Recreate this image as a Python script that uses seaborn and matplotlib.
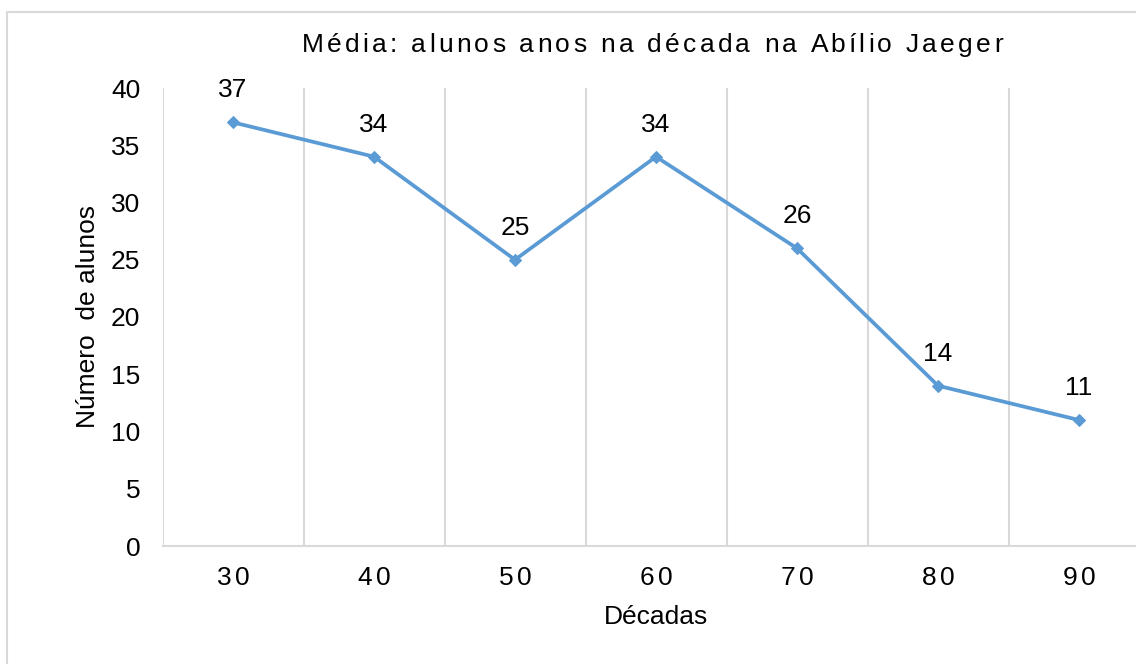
import numpy as np
import pandas as pd
import seaborn as sns
import matplotlib
matplotlib.use("Agg")
import matplotlib.pyplot as plt
from matplotlib.patches import Rectangle

decades = ["30", "40", "50", "60", "70", "80", "90"]
students = [37, 34, 25, 34, 26, 14, 11]
y_ticks = [0, 5, 10, 15, 20, 25, 30, 35, 40]

title = "Média: alunos anos na década na Abílio Jaeger"
xlabel = "Décadas"
ylabel = "Número  de alunos"

sns.set_theme(style="white")
plt.rcParams['font.family'] = ['Liberation Sans', 'DejaVu Sans']

FS = 19
W, H = 1136, 664
fig = plt.figure(figsize=(W / 100, H / 100), dpi=100)
fig.patches.append(Rectangle((7 / W, -0.5), 1.5, 1.5 - 12 / H, transform=fig.transFigure,
                             fill=False, edgecolor="#D9D9D9", linewidth=1.5))

ax = fig.add_axes([162.5 / W, (H - 546) / H, 987 / W, 458 / H])
pos = np.arange(len(decades))
df = pd.DataFrame({"pos": pos, "val": students})
sns.lineplot(data=df, x="pos", y="val", ax=ax, color="#5B9BD5", linewidth=2.7,
             marker="D", markersize=6.5, markeredgecolor="#5B9BD5")
ax.set_xlabel("")
ax.set_ylabel("")

ax.set_xlim(-0.5, len(decades) - 0.5)
ax.set_ylim(0, 40)
ax.set_yticks(y_ticks)
ax.set_yticklabels([str(t) for t in y_ticks], fontsize=FS, color="#000000")
ax.set_xticks(pos)
ax.set_xticklabels(["" for d in decades])
ax.tick_params(axis="both", length=0)
ax.tick_params(axis="y", pad=16)

for b in np.arange(-0.5, len(decades), 1.0):
    ax.axvline(b, color="#D9D9D9", linewidth=1.5, zorder=0)

for s in ["top", "right", "left"]:
    ax.spines[s].set_visible(False)
ax.spines["bottom"].set_color("#D9D9D9")
ax.spines["bottom"].set_linewidth(1.5)

for p, v in zip(pos, students):
    ax.annotate(str(v), (p, v), xytext=(0, 23), textcoords="offset points",
                ha="center", va="center", fontsize=FS, color="#000000")

fig.text(656 / W, 1 - 617 / H, xlabel, ha="center", va="center", fontsize=FS, color="#000000")
fig.text(88 / W, 1 - 317 / H, ylabel, ha="center", va="center", rotation=90,
         fontsize=FS, color="#000000")

renderer = fig.canvas.get_renderer()


def text_width(s, fs):
    t = fig.text(0, 0, s, fontsize=fs)
    w = t.get_window_extent(renderer).width
    t.remove()
    return w


def spaced_text(s, cx, cy, fs, extra):
    """Draw string s centred at pixel (cx, cy) with extra letter spacing (px)."""
    total = text_width(s, fs) + extra * (len(s) - 1)
    x0 = cx - total / 2
    for i, ch in enumerate(s):
        if ch == " ":
            continue
        xi = x0 + (text_width(s[:i], fs) if i else 0) + extra * i
        fig.text(xi / W, 1 - cy / H, ch, ha="left", va="center", fontsize=fs,
                 color="#000000")


# title with letter spacing, spanning approx 302..1003 px
tw = text_width(title, FS)
extra_title = (701 - tw) / (len(title) - 1)
spaced_text(title, 652, 45, FS, extra_title)

# x tick labels with slight letter spacing
for p, d in zip(pos, decades):
    px = ax.transData.transform((p, 0))[0]
    spaced_text(d, px, 578, FS, 3.5)

fig.savefig("out.png", dpi=100, facecolor="white")
